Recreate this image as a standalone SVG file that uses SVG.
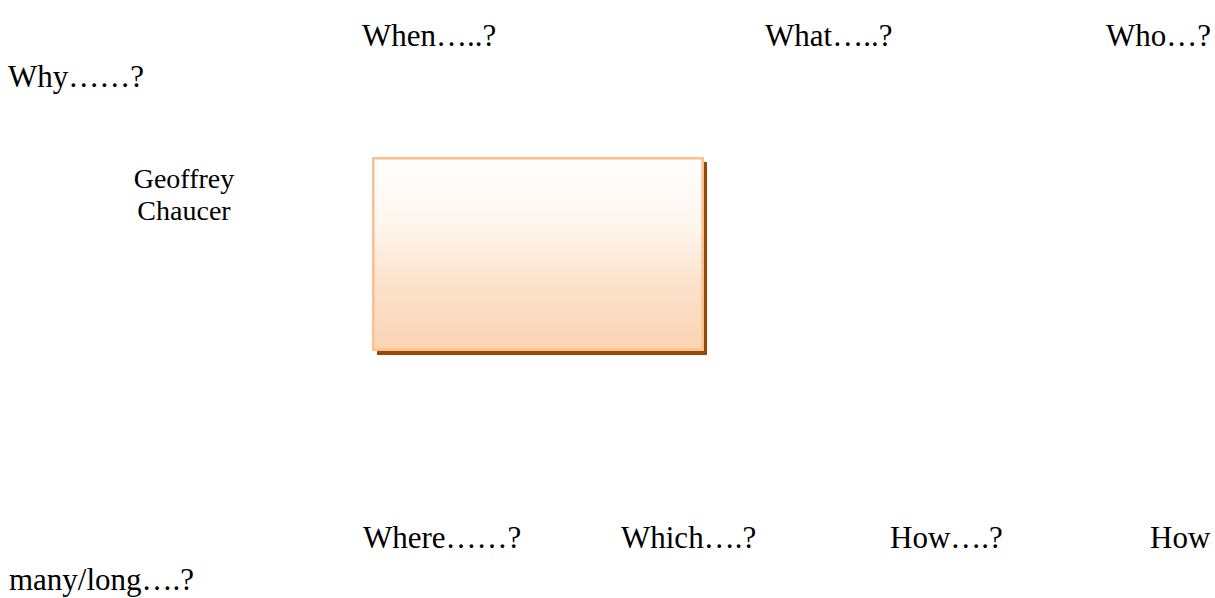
<svg xmlns="http://www.w3.org/2000/svg" width="1215" height="598" viewBox="0 0 1215 598">
<style>
.q{font-family:"Liberation Serif","Times New Roman",serif;font-size:31px;fill:#000}
.n{font-family:"Liberation Serif","Times New Roman",serif;font-size:28px;fill:#000;text-anchor:middle}
</style>
<defs>
<linearGradient id="g" x1="0" y1="0" x2="0" y2="1">
<stop offset="0" stop-color="#FFFFFF"/>
<stop offset="0.35" stop-color="#FEF6EE"/>
<stop offset="0.65" stop-color="#FCE2CC"/>
<stop offset="1" stop-color="#FBD4B4"/>
</linearGradient>
</defs>
<rect width="1215" height="598" fill="#fff"/>
<g id="questions-top">
<text class="q" x="362" y="46">When…..?</text>
<text class="q" x="765" y="46">What…..?</text>
<text class="q" x="1106" y="46">Who…?</text>
<text class="q" x="8" y="87">Why……?</text>
</g>
<g id="label">
<text class="n" x="184" y="188">Geoffrey</text>
<text class="n" x="184" y="220">Chaucer</text>
</g>
<g id="box">
<rect x="377" y="162" width="330" height="193" fill="#984806"/>
<rect x="373.3" y="158.3" width="329.4" height="191.4" fill="url(#g)" stroke="#FAC090" stroke-width="2.6"/>
</g>
<g id="questions-bottom">
<text class="q" x="363" y="548">Where……?</text>
<text class="q" x="621" y="548">Which….?</text>
<text class="q" x="890" y="548">How….?</text>
<text class="q" x="1150" y="548">How</text>
<text class="q" x="9" y="590">many/long….?</text>
</g>
<g id="connectors"/>
</svg>
